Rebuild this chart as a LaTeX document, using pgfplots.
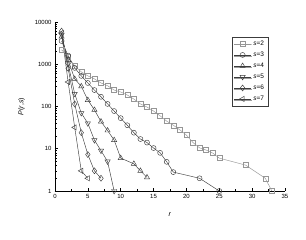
\documentclass[border=0pt]{standalone}
\usepackage{fontspec}
\setmainfont{Liberation Sans}
\usepackage{pgfplots}
\pgfplotsset{compat=1.18}
\usetikzlibrary{shadows}
\definecolor{lg}{RGB}{150,150,150}
\definecolor{dg}{RGB}{60,60,60}
\begin{document}
\begin{tikzpicture}
\begin{axis}[
  scale only axis, width=230pt, height=169pt,
  ymode=log, xmin=0, xmax=35, ymin=1, ymax=10000,
  axis x line*=bottom, axis y line*=left,
  axis line style={line width=0.6pt},
  xtick={0,5,...,35}, minor x tick num=1,
  ytick={1,10,100,1000,10000}, yticklabels={1,10,100,1000,10000},
  tick style={black, line width=0.5pt},
  major tick length=3pt, minor tick length=1.8pt,
  tick label style={font=\fontsize{6}{7}\selectfont},
  /pgf/number format/assume math mode=true,
  xlabel={\textit{r}}, ylabel={\textit{P}(\textit{r},\textit{s})},
  label style={font=\fontsize{7}{8}\selectfont},
  xlabel style={yshift=-7pt},
  ylabel style={yshift=3pt},
  legend style={at={(rel axis cs:0.768,0.913)}, anchor=north west,
    font=\fontsize{6.5}{8}\selectfont, draw=dg, line width=0.4pt,
    fill=white, drop shadow={shadow xshift=0.4pt, shadow yshift=-0.8pt, fill=gray},
    row sep=1pt, inner sep=2pt},
  legend cell align=left,
  every axis plot/.append style={line width=0.45pt, mark size=2.5pt, mark options={solid, fill=white}},
]
\addplot[lg, mark=square] coordinates {(1,2200)(2,1480)(3,910)(4,660)(5,530)(6,450)(7,360)(8,310)(9,245)(10,220)(11,187)(12,150)(13,115)(14,97)(15,78)(16,60)(17,45)(18,36)(19,28)(20,21)(21,14)(22,10.5)(23,9.3)(24,7.9)(25,6)(29,4.1)(32,2)(33,1)};
\addlegendentry{\textit{s}=2}
\addplot[dg, mark=o] coordinates {(1,3550)(2,1600)(3,820)(4,530)(5,360)(6,245)(7,170)(8,115)(9,78)(10,53)(11,36)(12,24)(13,17)(14,14)(15,10.4)(16,8)(17,4.9)(18,2.8)(22,2)(25,1)};
\addlegendentry{\textit{s}=3}
\addplot[dg, mark=triangle, mark size=3pt] coordinates {(1,4500)(2,1250)(3,450)(4,300)(5,142)(6,83)(7,44)(8,27)(9,16)(10,6)(12,4.4)(13,3)(14,2.1)};
\addlegendentry{\textit{s}=4}
\addplot[dg, mark=triangle, mark size=3pt, mark options={rotate=180}] coordinates {(1,5000)(2,1000)(3,200)(4,70)(5,40)(6,16)(7,9)(8,5)(9,1)};
\addlegendentry{\textit{s}=5}
\addplot[dg, mark=diamond, mark size=3pt] coordinates {(1,6100)(2,800)(3,115)(4,24)(5,7.3)(6,3)(7,2)};
\addlegendentry{\textit{s}=6}
\addplot[dg, mark=triangle, mark size=3pt, mark options={rotate=90}] coordinates {(1,5500)(2,380)(3,32)(4,3)(5,2)};
\addlegendentry{\textit{s}=7}
\end{axis}
\pgfresetboundingbox
\useasboundingbox (-55pt,-49pt) rectangle (251pt,191pt);
\end{tikzpicture}
\end{document}
